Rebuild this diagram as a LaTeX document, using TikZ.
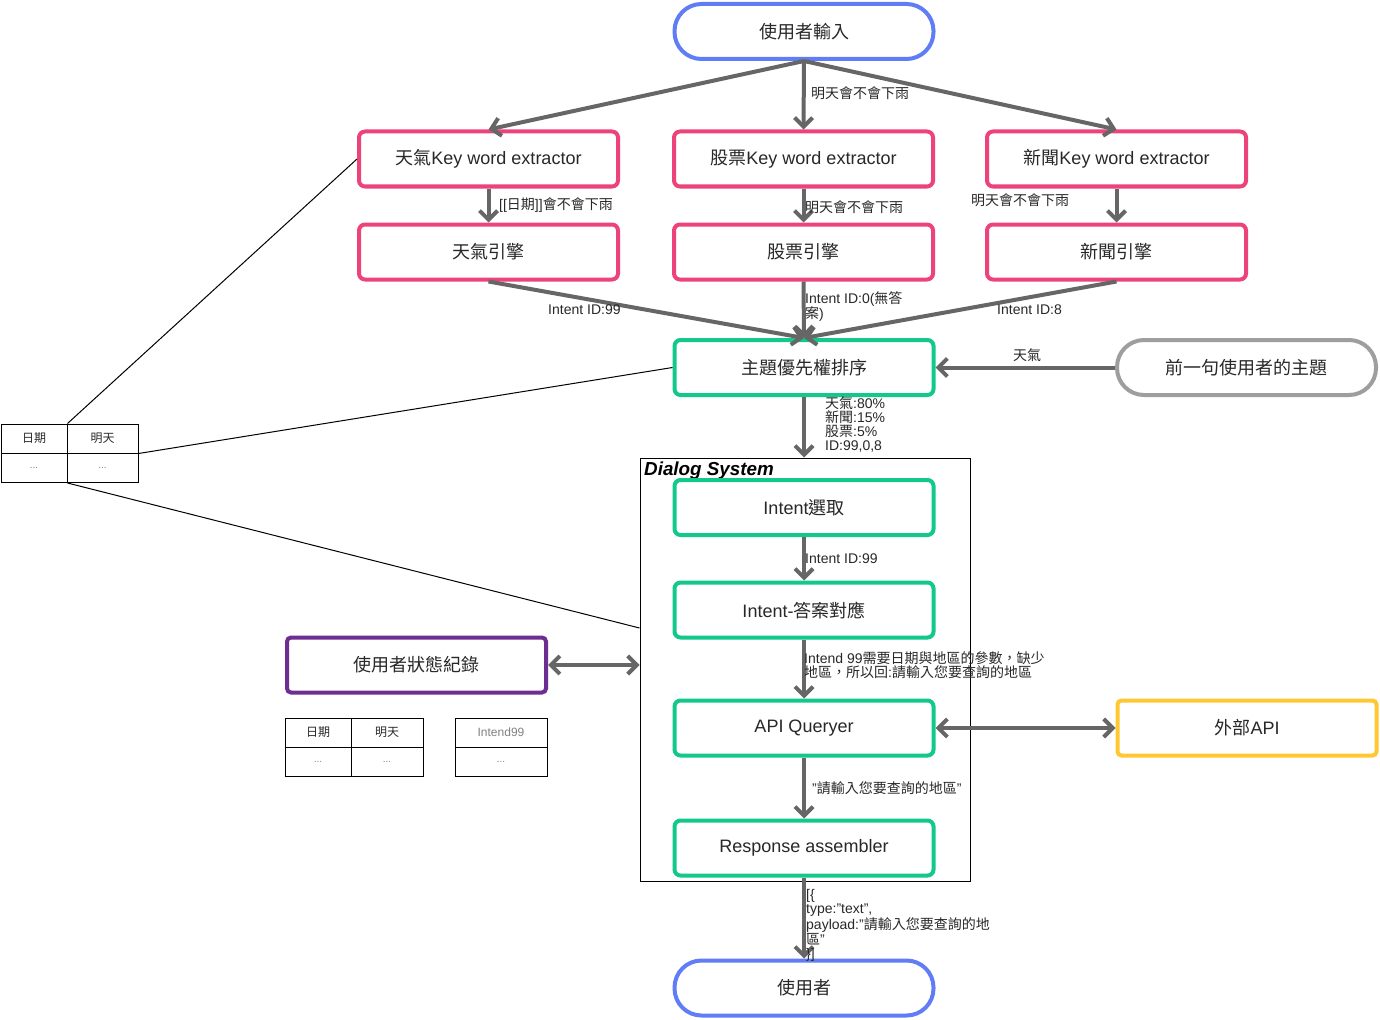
\documentclass[tikz,border=0pt]{standalone}
\usepackage{fontspec}
\setmainfont{Liberation Sans}
\newfontfamily\zhfont{Noto Sans CJK TC}
\newcommand\zh[1]{{\zhfont #1}}
\usetikzlibrary{arrows.meta}
\definecolor{blueC}{RGB}{96,125,245}
\definecolor{pinkC}{RGB}{236,68,122}
\definecolor{greenC}{RGB}{18,201,139}
\definecolor{grayC}{RGB}{158,158,158}
\definecolor{purpleC}{RGB}{110,46,145}
\definecolor{yellowC}{RGB}{255,200,50}
\definecolor{arrC}{RGB}{102,102,102}
\definecolor{txtC}{RGB}{40,40,40}
\definecolor{dotC}{RGB}{130,130,130}
\tikzset{
  box/.style={draw, line width=4pt, rounded corners=6pt, minimum width=259pt, minimum height=55pt,
    fill=white, inner sep=0pt, text=txtC, font=\fontsize{18}{22}\selectfont},
  pinkbox/.style={box, draw=pinkC},
  greenbox/.style={box, draw=greenC},
  pill/.style={box, rounded corners=27pt},
  lbl/.style={inner sep=0pt, text=txtC, align=left, font=\fontsize{14}{14}\selectfont},
  arr/.style={draw=arrC, line width=4pt, -{Straight Barb[length=9pt,width=18pt]}},
  dbl/.style={draw=arrC, line width=4pt, {Straight Barb[length=9pt,width=18pt]}-{Straight Barb[length=9pt,width=18pt]}},
  thinline/.style={draw=black, line width=1pt},
  cell/.style={draw=black, line width=1pt, inner sep=0pt, minimum height=29pt, text=txtC, font=\fontsize{12}{14}\selectfont},
  dots/.style={text=dotC, font=\fontsize{10}{12}\selectfont}
}
\begin{document}
\begin{tikzpicture}[x=1pt,y=-1pt]
\useasboundingbox[fill=white] (0,0) rectangle (1380,1019);

% container
\node[draw=black, line width=1pt, minimum width=330pt, minimum height=423pt, inner sep=0pt] (ds) at (805,669.5) {};
\node[anchor=north west, inner sep=0pt, font=\fontsize{18.8}{22}\selectfont\bfseries\itshape] (dslbl) at (644,462) {Dialog System};

% main nodes
\node[pill, draw=blueC] (in) at (804,31.5) {\zh{使用者輸入}};
\node[pinkbox] (wkx) at (488.5,159) {\zh{天氣}Key word extractor};
\node[pinkbox] (skx) at (803.5,159) {\zh{股票}Key word extractor};
\node[pinkbox] (nkx) at (1116.5,159) {\zh{新聞}Key word extractor};
\node[pinkbox] (we) at (488.5,252) {\zh{天氣引擎}};
\node[pinkbox] (se) at (803.5,252) {\zh{股票引擎}};
\node[pinkbox] (ne) at (1116.5,252) {\zh{新聞引擎}};
\node[greenbox] (rank) at (804,367.5) {\zh{主題優先權排序}};
\node[pill, draw=grayC] (prev) at (1246.5,367.5) {\zh{前一句使用者的主題}};
\node[greenbox] (isel) at (804,507.5) {Intent\zh{選取}};
\node[greenbox] (imap) at (804,610) {Intent-\zh{答案對應}};
\node[greenbox] (api) at (804,728) {API Queryer};
\node[greenbox] (resp) at (804,848) {Response assembler};
\node[pill, draw=blueC] (user) at (804,988) {\zh{使用者}};
\node[box, draw=purpleC, rounded corners=4pt] (rec) at (416.5,665) {\zh{使用者狀態紀錄}};
\node[box, draw=yellowC, rounded corners=4pt] (ext) at (1247,728) {\zh{外部}API};

% tables
\node[cell, minimum width=66pt] (t1a) at (34,438.5) {\zh{日期}};
\node[cell, minimum width=71pt] (t1b) at (102.5,438.5) {\zh{明天}};
\node[cell, minimum width=66pt, dots] (t1c) at (34,468) {...};
\node[cell, minimum width=71pt, dots] (t1d) at (102.5,468) {...};

\node[cell, minimum width=66pt] (t2a) at (318,732.5) {\zh{日期}};
\node[cell, minimum width=72pt] (t2b) at (387,732.5) {\zh{明天}};
\node[cell, minimum width=66pt, dots] (t2c) at (318,762) {...};
\node[cell, minimum width=72pt, dots] (t2d) at (387,762) {...};

\node[cell, minimum width=92pt, text=dotC] (t3a) at (501,732.5) {Intend99};
\node[cell, minimum width=92pt, dots] (t3b) at (501,762) {...};

% thin lines
\coordinate (dsin) at ([yshift=41.5pt]ds.west);
\draw[thinline] (t1a.north east) -- (wkx.west);
\draw[thinline] (t1b.south east) -- (rank.west);
\draw[thinline] (t1c.south east) -- (dsin);

% arrows
\draw[arr] (in.south) -- (wkx.north);
\draw[arr] (in.south) -- (skx.north);
\draw[arr] (in.south) -- (nkx.north);
\draw[arr] (wkx.south) -- (we.north);
\draw[arr] (skx.south) -- (se.north);
\draw[arr] (nkx.south) -- (ne.north);
\draw[arr] (we.south) -- (rank.north);
\draw[arr] (se.south) -- (rank.north);
\draw[arr] (ne.south) -- (rank.north);
\draw[arr] (prev.west) -- (rank.east);
\draw[arr] (rank.south) -- (rank.south |- ds.north);
\draw[arr] (isel.south) -- (imap.north);
\draw[arr] (imap.south) -- (api.north);
\draw[arr] (api.south) -- (resp.north);
\draw[arr] (resp.south) -- (user.north);
\draw[dbl] (api.east) -- (ext.west);
\draw[dbl] (rec.east) -- (rec.east -| ds.west);

% labels
\node[lbl, anchor=west] (l1) at (811,93) {\zh{明天會不會下雨}};
\node[lbl, anchor=west] (l2) at (499,205) {[[\zh{日期}]]\zh{會不會下雨}};
\node[lbl, anchor=west] (l3) at (805,207) {\zh{明天會不會下雨}};
\node[lbl, anchor=west] (l4) at (971,200) {\zh{明天會不會下雨}};
\node[lbl, anchor=west] (l5) at (548,310) {Intent ID:99};
\node[lbl, anchor=north west] (l6) at (805,291) {Intent ID:0(\zh{無答}\\\zh{案})};
\node[lbl, anchor=west] (l7) at (997,310) {Intent ID:8};
\node[lbl, anchor=center] (l8) at (1027,355) {\zh{天氣}};
\node[lbl, anchor=north west] (l9) at (825,397) {\zh{天氣}:80\%\\\zh{新聞}:15\%\\\zh{股票}:5\%\\ID:99,0,8};
\node[lbl, anchor=west] (l10) at (805,559) {Intent ID:99};
\node[lbl, anchor=north west] (l11) at (804,651) {Intend 99\zh{需要日期與地區的參數，缺少}\\\zh{地區，所以回}:\zh{請輸入您要查詢的地區}};
\node[lbl, anchor=west] (l12) at (812,788) {"\zh{請輸入您要查詢的地區}"};
\node[lbl, anchor=north west] (l13) at (806,889) {[\{\\type:"text",\\payload:"\zh{請輸入您要查詢的地}\\\zh{區}"\\\}]};
\end{tikzpicture}
\end{document}
